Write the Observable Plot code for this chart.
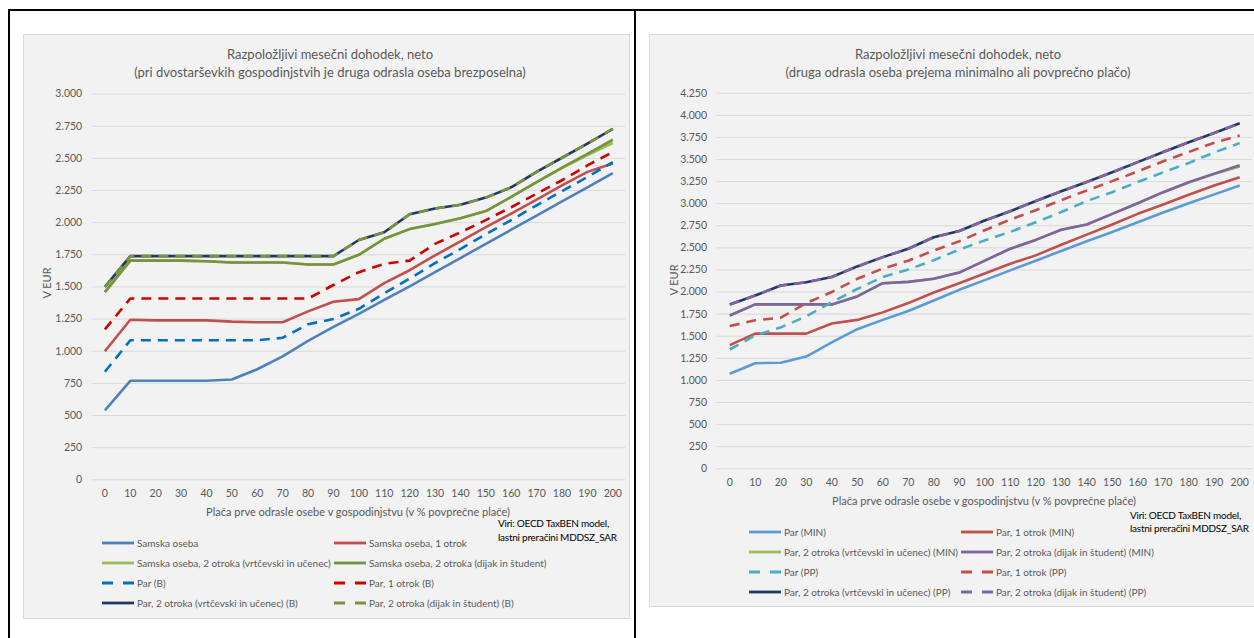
<!DOCTYPE html>
<html><head><meta charset="utf-8">
<script src="https://cdn.jsdelivr.net/npm/d3@7"></script>
<script src="https://cdn.jsdelivr.net/npm/@observablehq/plot@0.6"></script>
<style>
html,body{margin:0;padding:0;background:#fff;}
body{width:1254px;height:638px;position:relative;overflow:hidden;font-family:Lato,"Open Sans",sans-serif;}
.abs{position:absolute;white-space:nowrap;}
.c{transform:translate(-50%,-50%);}
.l{transform:translate(0,-50%);}
</style></head><body>
<script>
// ---- data ----
const pct = [0,10,20,30,40,50,60,70,80,90,100,110,120,130,140,150,160,170,180,190,200];
const yTicksLeft = [0,250,500,750,1000,1250,1500,1750,2000,2250,2500,2750,3000];
const yTicksRight = [0,250,500,750,1000,1250,1500,1750,2000,2250,2500,2750,3000,3250,3500,3750,4000,4250];

// left chart: second adult unemployed
const samska      = [540,770,770,770,770,780,860,960,1080,1190,1290,1400,1505,1615,1725,1835,1945,2055,2165,2275,2385];
const samska1     = [1000,1245,1240,1240,1240,1230,1225,1225,1310,1385,1405,1530,1630,1745,1855,1965,2070,2180,2290,2395,2460];
const samska2v    = [1460,1705,1705,1705,1700,1690,1690,1690,1675,1675,1750,1875,1950,1990,2035,2090,2200,2315,2425,2525,2620];
const samska2d    = [1460,1705,1705,1705,1700,1690,1690,1690,1675,1675,1750,1875,1950,1990,2035,2090,2200,2315,2428,2535,2645];
const parB        = [840,1085,1085,1085,1085,1085,1085,1105,1210,1250,1330,1450,1565,1685,1795,1910,2020,2135,2245,2355,2470];
const par1B       = [1170,1410,1410,1410,1410,1410,1410,1410,1410,1515,1615,1680,1705,1835,1925,2020,2120,2225,2330,2445,2550];
const par2vB      = [1500,1740,1740,1740,1740,1740,1740,1740,1740,1740,1865,1925,2065,2110,2140,2195,2275,2395,2505,2615,2730];
const par2dB      = [1500,1740,1740,1740,1740,1740,1740,1740,1740,1740,1865,1925,2065,2110,2140,2195,2275,2395,2505,2615,2730];

// right chart: second adult earns minimum (MIN) or average (PP) wage
const parMIN      = [1075,1195,1200,1270,1430,1580,1685,1785,1905,2025,2135,2245,2355,2465,2575,2680,2790,2900,3005,3105,3205];
const par1MIN     = [1400,1530,1530,1530,1645,1685,1770,1875,1995,2100,2210,2320,2415,2535,2650,2765,2885,2990,3100,3205,3300];
const par2vMIN    = [1735,1860,1860,1860,1860,1950,2100,2115,2150,2220,2355,2490,2590,2705,2765,2885,3005,3130,3240,3335,3420];
const par2dMIN    = [1735,1860,1860,1860,1860,1950,2100,2115,2150,2220,2355,2490,2590,2705,2765,2885,3005,3130,3242,3340,3435];
const parPP       = [1350,1510,1600,1725,1885,2035,2170,2255,2360,2480,2585,2680,2790,2905,3030,3130,3245,3355,3460,3580,3685];
const par1PP      = [1615,1680,1710,1875,2000,2150,2265,2355,2470,2575,2700,2820,2925,3040,3150,3255,3365,3480,3585,3690,3770];
const par2vPP     = [1860,1960,2075,2110,2170,2290,2395,2490,2620,2690,2810,2915,3030,3140,3245,3355,3470,3585,3695,3800,3910];
const par2dPP     = [1860,1960,2075,2110,2170,2290,2395,2490,2620,2690,2810,2915,3030,3140,3245,3355,3470,3585,3695,3800,3910];

const leftSeries = [
  {name:"Samska oseba", values:samska, color:"#4f81bd", dash:null},
  {name:"Samska oseba, 1 otrok", values:samska1, color:"#c0504d", dash:null},
  {name:"Samska oseba, 2 otroka (vrtčevski in učenec)", values:samska2v, color:"#9bbb59", dash:null},
  {name:"Samska oseba, 2 otroka (dijak in študent)", values:samska2d, color:"#77933c", dash:null},
  {name:"Par (B)", values:parB, color:"#0070c0", dash:"10,7"},
  {name:"Par, 1 otrok (B)", values:par1B, color:"#d00000", dash:"10,7"},
  {name:"Par, 2 otroka (vrtčevski in učenec) (B)", values:par2vB, color:"#1f3864", dash:null},
  {name:"Par, 2 otroka (dijak in študent) (B)", values:par2dB, color:"#77933c", dash:"10,7"}
];
const rightSeries = [
  {name:"Par (MIN)", values:parMIN, color:"#5b9bd5", dash:null},
  {name:"Par, 1 otrok (MIN)", values:par1MIN, color:"#c0504d", dash:null},
  {name:"Par, 2 otroka (vrtčevski in učenec) (MIN)", values:par2vMIN, color:"#9bbb59", dash:null},
  {name:"Par, 2 otroka (dijak in študent) (MIN)", values:par2dMIN, color:"#8064a2", dash:null},
  {name:"Par (PP)", values:parPP, color:"#4bacc6", dash:"10,7"},
  {name:"Par, 1 otrok (PP)", values:par1PP, color:"#c0504d", dash:"10,7"},
  {name:"Par, 2 otroka (vrtčevski in učenec) (PP)", values:par2vPP, color:"#1f3864", dash:null},
  {name:"Par, 2 otroka (dijak in študent) (PP)", values:par2dPP, color:"#8064a2", dash:"10,7"}
];

const titleLine1 = "Razpoložljivi mesečni dohodek, neto";
const leftTitle2 = "(pri dvostarševkih gospodinjstvih je druga odrasla oseba brezposelna)";
const rightTitle2 = "(druga odrasla oseba prejema minimalno ali povprečno plačo)";
const xTitle = "Plača prve odrasle osebe v gospodinjstvu (v % povprečne plače)";
const yTitle = "V EUR";
const source1 = "Viri: OECD TaxBEN model,";
const source2 = "lastni preračini MDDSZ_SAR";

// ---- helpers ----
const fmt = d => d3.format(",")(d).replace(/,/g, ".");
function box(x, y, w, h, css) {
  const d = document.createElement("div");
  d.className = "abs";
  Object.assign(d.style, {left:x+"px", top:y+"px", width:w+"px", height:h+"px"}, css||{});
  document.body.appendChild(d); return d;
}
function txt(s, x, y, cls, css) {
  const d = document.createElement("div");
  d.className = "abs " + cls;
  d.textContent = s;
  Object.assign(d.style, {left:x+"px", top:y+"px", color:"#595959", fontSize:"11px"}, css||{});
  document.body.appendChild(d); return d;
}

// frame lines
box(8, 9, 1246, 2, {background:"#000"});
box(8, 9, 2, 629, {background:"#000"});
box(634, 9, 2, 629, {background:"#000"});
// panels
box(23, 34, 605, 583, {background:"#f2f2f2", border:"1px solid #d9d9d9"});
box(649, 34, 610, 571, {background:"#f2f2f2", border:"1px solid #d9d9d9"});

function chart(series, yMax, yTicks, o) {
  const marks = [Plot.gridY(yTicks, {stroke:"#d9d9d9", strokeOpacity:1, strokeWidth:1})];
  marks.push(Plot.axisY(yTicks, {tickSize:0, tickPadding:o.tickPadY, tickFormat:fmt, fill:"#595959", label:null}));
  marks.push(Plot.axisX(pct, {tickSize:0, tickPadding:o.tickPadX, tickFormat:d=>String(d), fill:"#595959", label:null}));
  for (const s of series) {
    marks.push(Plot.line(s.values, {x:(d,i)=>pct[i], y:d=>d, stroke:s.color, strokeWidth:2.6,
      strokeDasharray:s.dash||undefined, strokeLinejoin:"round", strokeLinecap:"butt"}));
  }
  const svg = Plot.plot({
    width:o.width, height:o.height,
    marginLeft:o.ml, marginRight:o.mr, marginTop:o.mt, marginBottom:o.mb,
    x:{type:"linear", domain:[-5,205]},
    y:{domain:[0,yMax]},
    style:{background:"transparent", fontFamily:"Lato", fontSize:"10.5px", color:"#595959", overflow:"visible"},
    marks
  });
  svg.style.position = "absolute";
  svg.style.left = o.left + "px";
  svg.style.top = o.top + "px";
  document.body.appendChild(svg);
}

chart(leftSeries, 3000, yTicksLeft, {left:23, top:80, width:606, height:430, ml:68.7, mr:4, mt:13.6, mb:30.7, tickPadY:10, tickPadX:10});
chart(rightSeries, 4250, yTicksRight, {left:649, top:80, width:605, height:420, ml:67.5, mr:2, mt:12.7, mb:31.7, tickPadY:10, tickPadX:10});

// titles
txt(titleLine1, 330, 54, "c", {fontSize:"13px"});
txt(leftTitle2, 330, 72, "c", {fontSize:"13px"});
txt(titleLine1, 958, 54, "c", {fontSize:"13px"});
txt(rightTitle2, 958, 72, "c", {fontSize:"13px"});
// axis titles
txt(xTitle, 358, 511, "c", {fontSize:"11px"});
txt(xTitle, 984, 500, "c", {fontSize:"11px"});
txt(yTitle, 46, 283, "c", {fontSize:"11px", transform:"translate(-50%,-50%) rotate(-90deg)"});
txt(yTitle, 673, 280, "c", {fontSize:"11px", transform:"translate(-50%,-50%) rotate(-90deg)"});
// sources
const srcCss = {color:"#000", fontSize:"10px", letterSpacing:"-0.25px"};
txt(source1, 498, 523, "l", srcCss);
txt(source2, 498, 537, "l", srcCss);
txt(source1, 1130, 515, "l", srcCss);
txt(source2, 1130, 528, "l", srcCss);

// legends
function legend(series, cols, rows) {
  series.forEach((s, i) => {
    const cx = cols[i % 2], cy = rows[Math.floor(i / 2)];
    const ns = "http://www.w3.org/2000/svg";
    const sv = document.createElementNS(ns, "svg");
    sv.setAttribute("width", 34); sv.setAttribute("height", 6);
    Object.assign(sv.style, {position:"absolute", left:cx+"px", top:(cy-3)+"px"});
    const ln = document.createElementNS(ns, "line");
    ln.setAttribute("x1", 0); ln.setAttribute("x2", 32); ln.setAttribute("y1", 3); ln.setAttribute("y2", 3);
    ln.setAttribute("stroke", s.color); ln.setAttribute("stroke-width", 2.8);
    if (s.dash) ln.setAttribute("stroke-dasharray", "11,10");
    sv.appendChild(ln); document.body.appendChild(sv);
    txt(s.name, cx + 35, cy, "l", {fontSize:"10px"});
  });
}
legend(leftSeries, [102, 334], [543, 563, 583, 603]);
legend(rightSeries, [749, 961], [531.5, 551.5, 571.5, 591.5]);
</script>
</body></html>
